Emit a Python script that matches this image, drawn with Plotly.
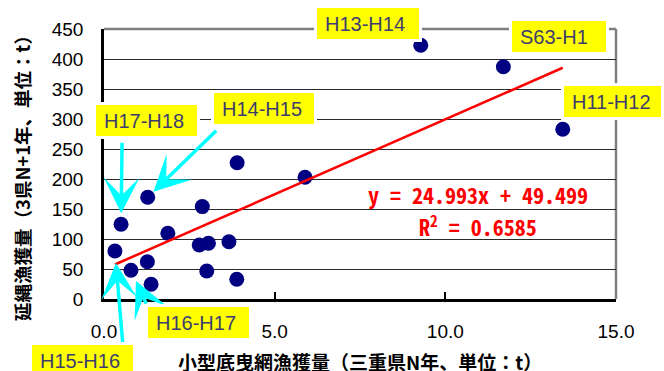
import plotly.graph_objects as go

# 小型底曳網漁獲量（三重県N年, t）と翌年の延縄漁獲量（3県N+1年, t）
trawl_catch = [3.90, 5.89, 9.28, 11.70, 13.44, 1.28, 0.50, 0.32, 0.79,
               1.27, 1.38, 1.87, 2.88, 2.79, 3.06, 3.66, 3.01, 3.89]
longline_catch = [227, 203, 423, 387, 283, 169.5, 124.5, 80, 48,
                  62, 24.5, 109.5, 154, 90, 93, 95.5, 46.7, 32.8]
period_labels = ["", "", "H13-H14", "S63-H1", "H11-H12", "H14-H15", "H17-H18",
                 "H15-H16", "H16-H17", "", "", "", "", "", "", "", "", ""]

# 線形近似（Excel の近似曲線）
trend_slope = 24.993
trend_intercept = 49.499
trend_r2 = 0.6585

x_ticks = [0, 5, 10, 15]
y_ticks = [0, 50, 100, 150, 200, 250, 300, 350, 400, 450]

x_title = "小型底曳網漁獲量（三重県N年、単位：t）"
y_title = "延縄漁獲量（3県N+1年、単位：t）"

W, H = 664, 371
M_L, M_R, M_T, M_B = 104, 48, 29, 72
PW, PH = W - M_L - M_R, H - M_T - M_B


def paper(px, py):
    """figure pixel position -> paper coordinates"""
    return (px - M_L) / PW, (H - M_B - py) / PH


fig = go.Figure()

fig.add_trace(go.Scatter(
    x=trawl_catch, y=longline_catch, mode="markers",
    marker=dict(color="#000080", size=15),
    hoverinfo="x+y", showlegend=False,
))

x0, x1 = min(trawl_catch), max(trawl_catch)
fig.add_trace(go.Scatter(
    x=[x0, x1],
    y=[trend_slope * x0 + trend_intercept, trend_slope * x1 + trend_intercept],
    mode="lines", line=dict(color="#ff0000", width=2.5),
    hoverinfo="skip", showlegend=False,
))

# plot-area border (top / right) in gray
fig.add_shape(type="line", xref="paper", yref="paper", x0=0, x1=1, y0=1, y1=1,
              line=dict(color="#808080", width=2.5), layer="between")
fig.add_shape(type="line", xref="paper", yref="paper", x0=1, x1=1, y0=0, y1=1,
              line=dict(color="#808080", width=2.5), layer="between")

annotations = []

# arrows pointing from the label boxes toward the points
arrow_style = {
    "H17-H18": dict(ax=1, ay=-83, standoff=11),
    "H14-H15": dict(ax=70, ay=-68, standoff=8),
    "H15-H16": dict(ax=8, ay=94, standoff=12),
    "H16-H17": dict(ax=16, ay=35, standoff=12),
}
for xv, yv, lab in zip(trawl_catch, longline_catch, period_labels):
    if lab in arrow_style:
        s = arrow_style[lab]
        annotations.append(dict(
            x=xv, y=yv, xref="x", yref="y", text="", showarrow=True,
            ax=s["ax"], ay=s["ay"], standoff=s["standoff"],
            arrowhead=3, arrowsize=1.7, arrowwidth=3.5, arrowcolor="#00ffff",
        ))

# yellow label boxes: centre (px) and box size
label_box = {
    "H13-H14": (368, 23.5, 102),
    "S63-H1": (559, 36.5, 94),
    "H11-H12": (612.5, 101.5, 97),
    "H14-H15": (264, 108, 100),
    "H17-H18": (146.5, 120.5, 101),
    "H16-H17": (198.5, 322, 101),
    "H15-H16": (82.5, 360.5, 101),
}
for lab in period_labels:
    if lab in label_box:
        cx, cy, bw = label_box[lab]
        px_, py_ = paper(cx, cy)
        annotations.append(dict(
            x=px_, y=py_, xref="paper", yref="paper", text=lab, showarrow=False,
            xanchor="center", yanchor="middle", align="left", valign="middle",
            width=bw - 16, height=15, borderpad=8, borderwidth=3,
            bgcolor="#ffff00", bordercolor="#ffffff",
            font=dict(family="Liberation Sans, Arial", size=20, color="#3d3d70"),
        ))

# regression equation
eq_font = dict(family="Noto Sans Mono CJK JP, DejaVu Sans Mono, monospace",
               size=22, color="#ff0000")
ex, ey = paper(478, 194)
annotations.append(dict(
    x=ex, y=ey, xref="paper", yref="paper", showarrow=False,
    xanchor="center", yanchor="middle",
    text=f"<b>y = {trend_slope}x + {trend_intercept}</b>", font=eq_font,
))
rx, ry = paper(477.5, 225.5)
annotations.append(dict(
    x=rx, y=ry, xref="paper", yref="paper", showarrow=False,
    xanchor="center", yanchor="middle",
    text=f"<b>R<sup>2</sup> = {trend_r2}</b>", font=eq_font,
))

# axis titles
tx, ty = paper(360, 361)
annotations.append(dict(x=tx, y=ty, xref="paper", yref="paper", showarrow=False,
                        xanchor="center", yanchor="middle",
                        text=f"<b>{x_title}</b>",
                        font=dict(family="Noto Sans CJK JP", size=19, color="#000000")))
vx, vy = paper(22, 174)
annotations.append(dict(x=vx, y=vy, xref="paper", yref="paper", showarrow=False,
                        xanchor="center", yanchor="middle",
                        text=f"<b>{y_title}</b>", textangle=-90,
                        font=dict(family="Noto Sans CJK JP", size=18.5, color="#000000")))

tick_font = dict(family="Liberation Sans, Arial", size=19, color="#000000")

fig.update_layout(
    width=W, height=H,
    margin=dict(l=M_L, r=M_R, t=M_T, b=M_B, autoexpand=False),
    paper_bgcolor="#ffffff", plot_bgcolor="#ffffff",
    showlegend=False,
    annotations=annotations,
    xaxis=dict(
        range=[0, 15], tickvals=x_ticks, tickformat=".1f",
        ticks="inside", ticklen=7, tickwidth=1.5, tickcolor="#000000",
        showline=True, linecolor="#000000", linewidth=2.5,
        showgrid=False, zeroline=False, tickfont=tick_font,
        ticklabelstandoff=13, fixedrange=True,
    ),
    yaxis=dict(
        range=[0, 450], tickvals=y_ticks,
        ticks="", showline=True, linecolor="#000000", linewidth=2.5,
        showgrid=True, gridcolor="#2a2a2a", gridwidth=1.3,
        zeroline=False, tickfont=tick_font,
        ticklabelstandoff=14, fixedrange=True,
    ),
)

fig.write_html("out.html")
